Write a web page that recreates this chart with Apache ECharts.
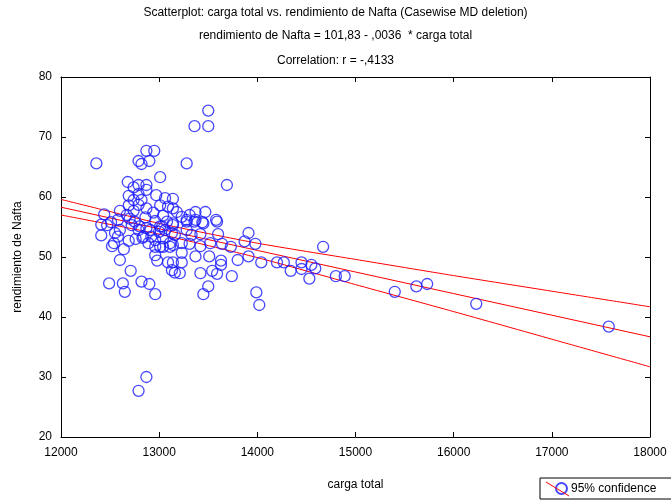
<!DOCTYPE html>
<html>
<head>
<meta charset="utf-8">
<script src="https://cdn.jsdelivr.net/npm/echarts@6/dist/echarts.min.js"></script>
<style>html,body{margin:0;padding:0;background:#fff;}#c{width:671px;height:501px;}</style>
</head>
<body>
<div id="c"></div>
<script>
// carga total (x) and rendimiento de Nafta (y)
var cargaTotal = [
12360,13500,13360,13500,12870,12950,12790,12820,12900,13280,13010,13690,12680,12790,12870,12740,12870,12790,12690,12970,
13060,13140,12740,12820,12690,12790,12870,13010,13090,12600,12740,12940,13040,13140,12440,12670,12860,12580,12510,12410,
12750,12960,13080,13180,13230,13370,13470,13310,13280,13370,13440,13580,13140,12410,12520,12540,12550,12600,12580,12690,
12640,12600,12710,12490,12630,12650,12820,12900,12960,12720,12790,12870,12920,12890,12960,13040,13040,13130,13110,12960,
12980,13090,13130,12470,13030,13140,13280,13360,13450,13590,13280,13160,13330,13420,13600,13910,13140,13230,13310,13420,
13520,13640,13730,13870,13980,13230,13370,13510,13140,13230,13630,13630,13800,13910,13160,13210,13420,13540,13590,13740,
13500,13450,13990,14040,14670,14200,14270,14340,14450,14450,14550,14590,14530,14800,14890,14020,15400,15620,15730,16230,
17580,12870,12790,12700,12800,12910,12840,13010,13110,13010,12960,12830,12760,13000,13060
];
var rendimiento = [
65.6,74.4,71.8,71.8,67.7,67.7,66.0,65.5,66.0,65.6,63.3,62.0,62.5,62.0,62.0,61.6,61.2,60.5,60.2,60.3,
59.8,59.7,59.5,59.5,58.6,58.7,58.1,58.6,58.4,57.7,57.7,57.4,56.9,58.1,57.1,57.0,56.6,56.2,55.8,55.4,
55.9,56.0,55.9,57.5,56.7,57.5,57.5,57.0,56.2,56.2,55.8,56.2,55.6,53.6,51.8,52.3,54.0,54.5,53.4,52.7,
51.3,49.5,47.7,45.6,45.6,44.2,45.9,45.5,43.8,55.3,54.5,54.8,53.4,52.3,51.7,53.1,51.7,54.0,52.3,50.3,
49.4,49.1,47.8,55.3,55.1,55.3,55.9,55.9,55.6,55.9,54.5,53.7,53.7,53.8,53.8,54.0,52.0,52.3,52.2,51.8,
52.3,52.2,51.7,52.6,52.2,50.7,50.1,50.1,49.1,49.1,49.4,48.7,49.5,50.1,47.4,47.3,47.3,47.7,47.2,46.8,
45.1,43.8,44.1,49.1,51.7,49.1,49.1,47.7,49.1,48.0,48.7,48.1,46.4,46.8,46.8,42.0,44.2,45.1,45.5,42.2,
38.4,30.0,27.7,56.4,55.1,54.5,53.4,55.1,51.7,51.7,52.8,53.2,53.0,54.2,54.5
];
// regression line and 95% confidence bands
var lineX = [12000,13000,14000,15000,16000,17000,18000];
var fitY = [58.3,54.7,51.1,47.5,43.9,40.3,36.7];
var upperY = [59.6,55.6,52.3,49.6,46.9,44.3,41.7];
var lowerY = [57.0,53.8,49.9,45.4,40.9,36.3,31.7];
var xTicks = {min:12000,max:18000,interval:1000};
var yTicks = {min:20,max:80,interval:10};

function pairs(xs, ys){ return xs.map(function(x,i){return [x, ys[i]];}); }

var FONT = 'Liberation Sans, Arial, sans-serif';
var chart = echarts.init(document.getElementById('c'), null, {renderer:'canvas'});
var axisCommon = {
  axisLine:{show:true,lineStyle:{color:'#000',width:1}},
  axisTick:{show:true,inside:true,length:5,lineStyle:{color:'#000'}},
  splitLine:{show:false}
};
var plain = function(v){ return String(v); };
var lineStyle = {color:'#ff0000',width:1};
var BLUE = '#1a1aff';
chart.setOption({
  animation:false,
  backgroundColor:'#fff',
  title:[
    {text:'Scatterplot: carga total vs. rendimiento de Nafta (Casewise MD deletion)',left:'center',top:2,textStyle:{fontFamily:FONT,fontSize:12,fontWeight:'normal',color:'#000'}},
    {text:'rendimiento de Nafta = 101,83 - ,0036  * carga total',left:'center',top:25,textStyle:{fontFamily:FONT,fontSize:12,fontWeight:'normal',color:'#000'}},
    {text:'Correlation: r = -,4133',left:'center',top:50,textStyle:{fontFamily:FONT,fontSize:12,fontWeight:'normal',color:'#000'}}
  ],
  grid:{left:61,right:21,top:77,bottom:64,containLabel:false},
  xAxis:[
    Object.assign({type:'value',position:'bottom',min:xTicks.min,max:xTicks.max,interval:xTicks.interval,
      name:'carga total',nameLocation:'middle',nameGap:42,
      nameTextStyle:{fontFamily:FONT,fontSize:12,color:'#000'},
      axisLabel:{fontFamily:FONT,fontSize:12,color:'#000',margin:10,formatter:plain}},axisCommon),
    Object.assign({type:'value',position:'top',min:xTicks.min,max:xTicks.max,interval:xTicks.interval,
      axisLabel:{show:false}},axisCommon)
  ],
  yAxis:[
    Object.assign({type:'value',position:'left',min:yTicks.min,max:yTicks.max,interval:yTicks.interval,
      name:'rendimiento de Nafta',nameLocation:'middle',nameGap:37,
      nameTextStyle:{fontFamily:FONT,fontSize:12,color:'#000'},
      axisLabel:{fontFamily:FONT,fontSize:12,color:'#000',margin:9,formatter:plain}},axisCommon),
    Object.assign({type:'value',position:'right',min:yTicks.min,max:yTicks.max,interval:yTicks.interval,
      axisLabel:{show:false}},axisCommon)
  ],
  legend:{
    data:['95% confidence'],left:540,top:478,orient:'horizontal',
    borderColor:'#000',borderWidth:1,borderRadius:0,padding:[4,40,4,15],
    itemWidth:11,itemHeight:11,itemGap:4,
    textStyle:{fontFamily:FONT,fontSize:12,color:'#000',padding:[0,0,0,-1]}
  },
  series:[
    {name:'fit',type:'line',data:pairs(lineX,fitY),symbol:'none',lineStyle:lineStyle,z:3,silent:true},
    {name:'upper',type:'line',data:pairs(lineX,upperY),symbol:'none',smooth:0.2,lineStyle:lineStyle,z:3,silent:true},
    {name:'lower',type:'line',data:pairs(lineX,lowerY),symbol:'none',smooth:0.2,lineStyle:lineStyle,z:3,silent:true},
    {name:'95% confidence',type:'scatter',data:pairs(cargaTotal,rendimiento),symbol:'circle',symbolSize:11,
      itemStyle:{color:'rgba(255,255,255,0)',borderColor:BLUE,borderWidth:1.3},z:4}
  ],
  graphic:[
    {type:'line',shape:{x1:546,y1:482,x2:569,y2:496},style:{stroke:'#ff0000',lineWidth:1},z:100}
  ]
});
</script>
</body>
</html>
